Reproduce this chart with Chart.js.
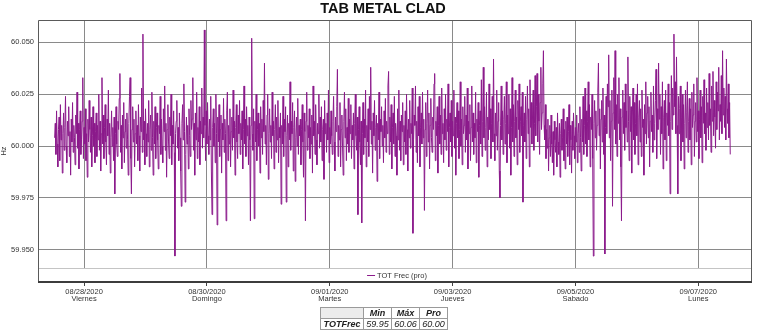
<!DOCTYPE html>
<html>
<head>
<meta charset="utf-8">
<script src="https://cdn.jsdelivr.net/npm/chart.js@4.4.1/dist/chart.umd.min.js"></script>
<style>
  html, body { margin:0; padding:0; background:#fff; }
  #wrap { position:relative; width:762px; height:331px; overflow:hidden; font-family:"Liberation Sans", Arial, sans-serif; }
  #title { position:absolute; left:0; top:1px; width:766px; text-align:center; font-weight:bold; font-size:14.5px; line-height:15px; color:#111; }
  canvas { position:absolute; left:0; top:0; }
  #stats { position:absolute; left:320px; top:307px; border-collapse:collapse; font-size:9px; font-style:italic; color:#222; }
  #stats td { border:1px solid #9a9a9a; padding:0 2px; height:10px; line-height:10px; text-align:center; }
  #stats td.blank { background:#ececec; width:38px; }
  #stats td.h { font-weight:bold; width:23px; }
  #stats td.rn { font-weight:bold; }
</style>
</head>
<body>
<div id="wrap">
  <canvas id="c" width="762" height="331"></canvas>
  <div id="title"></div>
  <table id="stats"></table>
</div>
<script>
// ---------- data ----------
const chartTitle = 'TAB METAL CLAD';
const seriesLabel = 'TOT Frec (pro)';
const yAxisTitle = 'Hz';
// sampling: 15-minute readings starting 08/27/2020 12:30
const seriesStartUTC = [2020, 7, 27, 12, 30];
const stepMinutes = 15;
const freqValues = [
60.004,60.011,59.996,60.017,60.001,59.990,60.008,60.014,59.993,60.020,60.003,60.010,59.987,60.006,60.016,59.998,
60.009,60.024,60.000,59.992,60.012,60.005,60.019,59.995,60.007,59.986,60.013,60.002,60.021,59.997,60.010,60.004,
59.991,60.015,60.006,60.026,59.999,60.011,59.989,60.008,60.017,59.996,60.003,60.012,60.033,59.994,60.009,60.001,
60.018,59.993,60.006,59.985,60.013,60.002,60.022,60.008,59.997,60.014,59.990,60.005,60.019,60.000,60.011,59.992,
60.007,60.016,59.995,60.010,60.003,60.025,59.998,60.012,59.988,60.006,60.033,60.001,60.015,59.994,60.009,60.020,
60.002,59.991,60.013,60.005,60.027,59.996,60.011,59.987,60.004,60.017,60.000,60.009,59.993,60.014,59.977,60.006,
60.019,60.001,59.995,60.012,60.008,60.023,60.035,59.997,60.010,59.989,60.015,60.004,60.021,59.992,60.007,60.013,
59.999,60.016,60.003,59.986,60.011,60.024,60.033,59.994,59.977,60.008,60.019,60.002,60.013,59.990,60.006,60.017,
60.001,60.010,59.993,60.020,60.005,59.988,60.014,60.007,60.028,59.997,60.054,60.003,60.012,59.991,60.018,60.006,
59.995,60.011,60.002,60.022,59.990,60.008,60.015,59.998,60.026,60.004,59.986,60.012,60.001,60.019,59.994,60.009,
60.016,60.003,59.989,60.010,60.006,60.024,59.996,60.013,60.000,59.992,60.018,60.007,60.029,59.998,60.011,59.985,
60.008,60.020,60.002,59.994,60.014,60.005,60.025,59.991,60.010,60.001,60.017,59.997,59.947,60.006,60.012,60.022,
59.999,60.009,59.993,60.016,60.004,59.988,59.971,60.011,60.020,60.003,60.030,60.007,59.973,59.996,60.014,60.001,
60.010,59.989,60.018,60.005,59.995,60.022,60.008,60.013,60.033,59.998,60.011,59.986,60.016,60.003,60.026,59.994,
60.009,60.002,60.019,59.991,60.012,60.006,60.028,59.999,60.014,60.004,60.056,60.010,59.993,60.017,60.001,60.021,
60.005,59.996,60.013,60.003,60.024,59.988,59.967,60.009,60.018,60.000,60.011,59.992,60.025,60.006,59.962,60.014,
60.002,60.020,59.995,60.008,60.015,59.987,60.011,60.003,60.023,59.997,60.013,60.006,59.964,60.017,60.026,59.993,
60.010,60.001,60.018,59.990,60.007,60.014,59.998,60.027,60.004,60.012,59.986,60.009,60.020,60.002,59.994,60.015,
60.006,60.022,59.996,60.011,60.003,60.017,59.989,60.008,60.029,60.001,60.013,59.995,60.019,60.005,60.010,59.991,
60.014,60.003,59.964,60.010,60.052,60.006,59.998,60.018,59.965,60.012,60.002,60.025,59.993,60.008,60.016,60.000,
60.011,59.987,60.019,60.004,60.013,59.996,60.022,60.007,60.040,60.001,60.010,59.991,60.015,60.025,59.984,60.006,
60.018,60.002,60.010,59.994,60.026,60.005,60.012,59.989,60.008,60.020,59.997,60.014,60.003,60.022,59.992,60.009,
60.004,60.016,59.972,60.010,60.001,60.024,59.995,60.013,60.007,60.019,59.973,60.005,60.015,59.990,60.011,60.003,
60.031,59.998,60.012,60.006,60.021,59.988,60.009,60.017,59.983,60.004,60.014,60.000,60.023,59.996,60.010,60.005,
60.013,59.991,60.008,60.020,60.002,59.985,60.016,60.007,59.964,60.012,60.026,59.998,60.010,60.004,60.018,59.994,
60.009,60.001,60.015,59.987,60.029,60.005,60.012,59.996,60.020,60.003,59.991,60.011,60.006,60.025,59.999,60.014,
60.002,60.019,59.993,60.008,60.013,59.984,60.022,60.006,60.011,59.997,60.016,60.003,60.027,59.992,60.009,60.001,
60.017,60.005,59.996,60.012,60.024,60.002,59.988,60.014,60.007,60.019,60.037,59.995,60.010,60.003,60.021,59.990,
60.008,60.015,60.000,59.986,60.012,60.026,60.004,60.018,59.993,60.009,60.001,60.023,59.997,60.013,60.006,60.020,
59.994,60.010,60.003,60.016,59.989,60.011,60.025,60.005,59.998,60.014,59.967,60.008,60.019,60.002,59.991,60.012,
59.963,60.006,60.021,59.996,60.013,60.004,60.027,59.990,60.010,60.002,60.018,59.995,60.024,60.008,60.038,60.001,
60.012,59.987,60.016,60.005,60.022,59.998,60.009,60.015,59.983,60.011,60.003,60.026,59.994,60.013,60.007,60.019,
60.000,60.010,59.992,60.017,60.004,60.023,59.997,60.012,60.006,60.029,60.036,59.996,60.014,60.002,60.020,59.989,
60.009,60.016,60.001,60.024,59.995,60.011,60.005,59.986,60.018,60.003,60.027,59.998,60.012,59.993,60.015,60.007,
60.021,59.991,60.010,60.002,60.017,59.996,60.025,60.008,59.988,60.013,60.004,60.022,59.999,60.011,60.006,60.028,
59.958,60.003,60.015,60.010,60.029,59.997,60.012,59.992,60.019,60.005,60.024,59.990,60.009,60.016,60.001,60.026,
60.004,60.013,59.969,60.008,60.021,59.995,60.011,60.027,60.002,60.016,59.989,60.010,60.023,60.004,59.997,60.014,
60.008,60.030,60.035,59.993,60.012,60.005,60.019,59.987,60.010,60.024,60.001,60.015,59.996,60.028,60.006,60.011,
59.992,60.018,60.003,60.025,59.998,60.013,60.007,60.030,59.990,60.009,60.016,60.002,60.022,59.995,60.012,60.005,
60.027,59.999,60.014,59.986,60.011,60.021,60.004,60.017,59.994,60.008,60.031,60.000,60.013,59.991,60.019,60.006,
60.010,60.024,59.997,60.015,60.003,60.028,59.989,60.012,60.006,60.020,59.993,60.009,60.029,60.002,60.016,59.996,
60.011,60.004,60.026,59.992,60.013,60.007,60.021,59.985,60.010,60.017,60.001,60.032,59.995,60.012,60.038,60.004,
60.019,59.998,60.009,60.026,59.990,60.014,60.003,60.030,60.008,60.018,59.994,60.011,60.024,60.002,60.042,60.006,
59.993,60.016,60.005,60.027,59.998,60.012,60.021,59.988,59.975,60.010,60.029,60.003,60.017,59.996,60.013,60.024,
60.001,60.011,60.031,59.992,60.015,60.006,60.025,59.999,60.018,59.986,60.009,60.033,60.002,60.020,59.995,60.012,
60.027,60.004,60.014,59.991,60.022,60.008,60.030,59.997,60.012,60.019,60.005,60.026,59.973,60.010,60.016,60.002,
60.024,59.994,60.013,60.029,60.006,60.018,59.990,60.032,60.009,60.021,60.001,60.015,60.027,59.998,60.011,60.034,
60.005,60.019,60.035,60.002,60.025,60.012,59.996,60.021,60.038,60.008,60.016,60.030,60.046,60.010,60.003,60.020,
59.994,60.008,59.999,60.013,59.988,60.004,60.010,59.995,60.015,60.001,59.992,60.007,59.986,60.012,60.003,59.997,
60.009,59.990,60.016,60.002,59.996,60.011,59.985,60.006,60.013,59.998,60.004,60.018,59.993,60.008,59.989,60.012,
60.001,60.014,59.995,60.007,60.020,59.991,60.010,60.003,59.987,60.012,59.998,60.016,60.005,59.994,60.009,60.002,
60.015,59.992,60.006,60.011,59.997,60.019,60.004,59.988,60.013,60.002,60.024,59.996,60.010,60.028,60.001,60.017,
59.995,60.012,60.031,60.003,60.020,59.990,60.014,60.008,60.025,59.994,59.947,60.011,60.022,60.004,60.017,59.998,
60.010,60.026,60.040,60.005,60.018,59.989,60.013,60.022,60.002,60.028,59.996,60.015,59.948,60.009,60.024,60.006,
60.030,60.019,60.044,60.004,60.022,59.993,60.012,60.027,59.971,60.016,60.033,60.008,60.046,60.001,60.020,59.995,
60.025,60.011,60.033,60.003,60.018,59.990,59.964,60.014,60.027,60.006,60.021,59.998,60.030,60.009,60.017,60.002,
60.043,60.012,59.993,60.024,60.007,60.019,59.987,60.015,60.028,60.003,60.021,59.996,60.011,60.025,60.005,60.030,
59.991,60.014,60.022,60.002,60.018,59.995,60.027,60.009,60.013,59.986,60.020,60.006,60.031,60.001,60.016,60.024,
60.004,60.019,59.990,60.012,60.026,60.007,60.015,59.997,60.029,60.003,60.011,60.022,60.037,59.994,60.018,60.008,
60.040,60.013,60.025,59.996,60.019,60.006,60.031,59.989,60.014,60.022,60.003,60.027,59.993,60.016,60.010,60.030,
60.005,60.021,59.977,60.012,60.034,60.008,60.028,60.015,60.054,60.019,60.031,60.006,60.043,60.010,59.977,60.024,
60.006,60.018,60.029,59.993,60.014,60.025,60.002,60.020,59.989,60.011,60.027,60.004,60.016,60.031,59.997,60.012,
60.023,60.003,60.018,59.991,60.026,60.009,60.015,60.030,59.995,60.012,60.021,60.002,60.033,60.007,60.017,59.994,
60.013,60.027,60.004,60.019,59.992,60.024,60.011,60.032,60.006,60.016,59.998,60.028,60.009,60.021,60.003,60.035,
60.010,60.018,59.997,60.029,60.012,60.036,60.005,60.022,60.014,59.999,60.031,60.008,60.026,60.017,60.038,60.003,
60.020,60.012,60.034,60.006,60.046,60.015,60.028,60.009,60.024,60.003,60.042,60.018,60.011,60.030,60.004,60.021,
59.996
];
const xTickDates = ['08/28/2020','08/30/2020','09/01/2020','09/03/2020','09/05/2020','09/07/2020'];
const xTickDays  = ['Viernes','Domingo','Martes','Jueves','Sabado','Lunes'];
const yTickValues = [59.950, 59.975, 60.000, 60.025, 60.050];
const statCols = ['Min','Máx','Pro'];
const statRowName = 'TOTFrec';
const statValues = ['59.95','60.06','60.00'];

// ---------- helpers ----------
const DAY = 86400000;
const axisOrigin = Date.UTC(2020, 7, 27);           // x = days since 08/27/2020 00:00
const startMs = Date.UTC(...seriesStartUTC);
const points = freqValues.map((v, i) => ({ x: (startMs + i * stepMinutes * 60000 - axisOrigin) / DAY, y: v }));
const tickPos = xTickDates.map(s => { const [m, d, y] = s.split('/').map(Number); return (Date.UTC(y, m - 1, d) - axisOrigin) / DAY; });

document.getElementById('title').textContent = chartTitle;
const tbl = document.getElementById('stats');
tbl.innerHTML = '<tr><td class="blank"></td>' + statCols.map(c => '<td class="h">' + c + '</td>').join('') + '</tr>' +
  '<tr><td class="rn">' + statRowName + '</td>' + statValues.map(v => '<td>' + v + '</td>').join('') + '</tr>';

const FONT = { family: '"Liberation Sans", Arial, sans-serif', size: 7.5, lineHeight: 1.0 };

const framePlugin = {
  id: 'frame',
  afterDraw(chart) {
    const { ctx, chartArea: a } = chart;
    ctx.save();
    // legend band at the bottom of the plot
    const bandTop = a.bottom - 13.5;
    ctx.fillStyle = '#fff';
    ctx.fillRect(a.left + 1, bandTop, a.right - a.left - 2, a.bottom - bandTop);
    ctx.strokeStyle = '#c4c4c4';
    ctx.lineWidth = 1;
    ctx.beginPath(); ctx.moveTo(a.left, bandTop); ctx.lineTo(a.right, bandTop); ctx.stroke();
    // legend entry
    const ds = chart.data.datasets[0];
    ctx.font = '7.5px "Liberation Sans", Arial, sans-serif';
    const tw = ctx.measureText(ds.label).width;
    const total = 8 + 2 + tw;
    const cx = (a.left + a.right) / 2 + 2;
    const sx = cx - total / 2;
    const ly = bandTop + 6.5;
    ctx.strokeStyle = ds.borderColor;
    ctx.beginPath(); ctx.moveTo(sx, ly + 0.5); ctx.lineTo(sx + 8, ly + 0.5); ctx.stroke();
    ctx.fillStyle = '#333';
    ctx.textBaseline = 'middle';
    ctx.fillText(ds.label, sx + 10, ly + 0.5);
    // frame
    ctx.strokeStyle = '#5a5a5a';
    ctx.lineWidth = 1;
    ctx.beginPath();
    ctx.moveTo(a.left + 0.5, a.bottom); ctx.lineTo(a.left + 0.5, a.top + 0.5);
    ctx.lineTo(a.right - 0.5, a.top + 0.5); ctx.lineTo(a.right - 0.5, a.bottom);
    ctx.stroke();
    ctx.strokeStyle = '#3c3c3c';
    ctx.lineWidth = 2;
    ctx.beginPath(); ctx.moveTo(a.left, a.bottom); ctx.lineTo(a.right, a.bottom); ctx.stroke();
    ctx.restore();
  }
};

new Chart(document.getElementById('c'), {
  type: 'line',
  data: {
    datasets: [{
      label: seriesLabel,
      data: points,
      borderColor: '#8b1a8b',
      borderWidth: 1,
      pointRadius: 0,
      tension: 0,
      fill: false
    }]
  },
  options: {
    responsive: false,
    animation: false,
    devicePixelRatio: 1,
    layout: { padding: { top: 20, right: 10, left: 0, bottom: 0 } },
    plugins: { legend: { display: false }, tooltip: { enabled: false }, title: { display: false } },
    scales: {
      x: {
        type: 'linear',
        min: 0.25,
        max: 11.875,
        afterBuildTicks: s => { s.ticks = tickPos.map(v => ({ value: v })); },
        afterFit: s => { s.height = 49; },
        border: { display: false },
        grid: { color: '#8a8a8a', lineWidth: 1, drawTicks: true, tickLength: 4, tickColor: '#444' },
        ticks: {
          autoSkip: false, maxRotation: 0, minRotation: 0, padding: 2,
          color: '#333', font: FONT,
          callback: (v) => { const k = tickPos.findIndex(p => Math.abs(p - v) < 1e-6); return k < 0 ? '' : [xTickDates[k], xTickDays[k]]; }
        }
      },
      y: {
        min: 59.9345,
        max: 60.0608,
        afterBuildTicks: s => { s.ticks = yTickValues.map(v => ({ value: v })); },
        afterFit: s => { s.width = 38; },
        border: { display: false },
        grid: { color: '#8a8a8a', lineWidth: 1, drawTicks: false },
        ticks: { padding: 4, color: '#333', font: FONT, callback: v => Number(v).toFixed(3) },
        title: { display: true, text: yAxisTitle, color: '#333', font: FONT, padding: { top: 0, bottom: 0 } }
      }
    }
  },
  plugins: [framePlugin]
});
</script>
</body>
</html>
